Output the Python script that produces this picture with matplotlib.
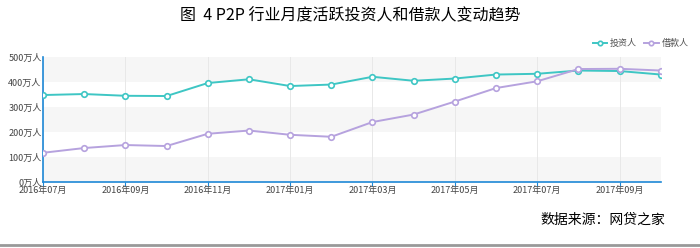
import matplotlib.pyplot as plt
import numpy as np

plt.rcParams['font.family'] = ['Noto Sans CJK SC', 'DejaVu Sans']

# monthly data, 2016-07 .. 2017-10 (unit: 万人)
months = ['2016年07月', '2016年08月', '2016年09月', '2016年10月', '2016年11月', '2016年12月',
          '2017年01月', '2017年02月', '2017年03月', '2017年04月', '2017年05月', '2017年06月',
          '2017年07月', '2017年08月', '2017年09月', '2017年10月']
investors = [348, 352, 345, 344, 396, 411, 384, 390, 421, 405, 414, 430, 433, 446, 444, 430]
borrowers = [117, 136, 148, 144, 193, 206, 189, 181, 240, 270, 322, 376, 403, 452, 453, 446]
y_ticks = [0, 100, 200, 300, 400, 500]

teal = '#3ec6c4'
lilac = '#b6a2de'
axis_blue = '#1e88d6'

fig = plt.figure(figsize=(7, 2.48), dpi=100)
ax = fig.add_axes([0.0614, 0.266, 0.8826, 0.504])

x = np.arange(len(months))

# alternating horizontal bands
for i in range(len(y_ticks) - 1):
    if i % 2 == 0:
        ax.axhspan(y_ticks[i], y_ticks[i + 1], color='#f6f6f6', zorder=0, lw=0)

# vertical grid at label ticks
for xi in x[::2]:
    ax.axvline(xi, color='#e8e8e8', lw=0.7, zorder=1)

ax.plot(x, investors, color=teal, lw=1.4, marker='o', ms=4, mfc='white',
        mec=teal, mew=1.2, zorder=3, label='投资人')
ax.plot(x, borrowers, color=lilac, lw=1.4, marker='o', ms=4, mfc='white',
        mec=lilac, mew=1.2, zorder=3, label='借款人')

ax.set_xlim(0, len(months) - 1)
ax.set_ylim(0, 500)
ax.set_yticks(y_ticks)
ax.set_yticklabels([f'{v}万人' for v in y_ticks])
ax.set_xticks(x[::2])
ax.set_xticklabels(months[::2])

for s in ['top', 'right']:
    ax.spines[s].set_visible(False)
for s in ['left', 'bottom']:
    ax.spines[s].set_color(axis_blue)
    ax.spines[s].set_linewidth(1.2)
ax.tick_params(axis='y', length=0, labelsize=6.5, labelcolor='#444444', pad=1)
ax.tick_params(axis='x', length=3, color=axis_blue, labelsize=6.5, labelcolor='#444444', pad=0)

leg = fig.legend(loc='upper right', bbox_to_anchor=(0.995, 0.875), ncol=2, frameon=False,
                 fontsize=6.5, handlelength=1.6, columnspacing=0.8, handletextpad=0.3,
                 markerscale=0.8, labelcolor='#555555')

fig.text(0.5, 0.935, '图  4 P2P 行业月度活跃投资人和借款人变动趋势', ha='center', va='center',
         fontsize=11.5, color='black')
fig.text(0.95, 0.115, '数据来源：网贷之家', ha='right', va='center', fontsize=10,
         style='italic', color='black')

# page border at the bottom
fig.add_artist(plt.Line2D([0, 1], [0.012, 0.012], color='#999999', lw=2))

fig.savefig('out.png', dpi=100)
